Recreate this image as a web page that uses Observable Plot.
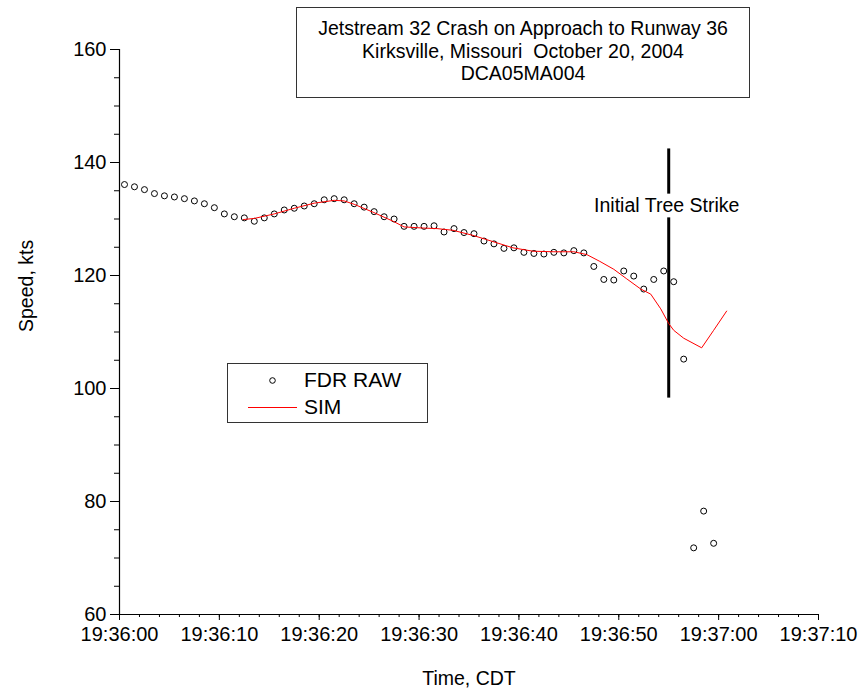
<!DOCTYPE html>
<html>
<head>
<meta charset="utf-8">
<script src="https://cdn.jsdelivr.net/npm/d3@7"></script>
<script src="https://cdn.jsdelivr.net/npm/@observablehq/plot@0.6"></script>
<style>
  html, body { margin: 0; padding: 0; background: #fff; }
  #wrap { position: relative; width: 863px; height: 700px; font-family: "Liberation Sans", Arial, sans-serif; color: #000; }
  #titlebox { position: absolute; left: 296px; top: 7px; width: 452px; height: 80px; border: 1px solid #333; background: #fff;
    text-align: center; font-size: 19.5px; line-height: 22.5px; padding-top: 9px; box-sizing: content-box; }
  #titlebox div { white-space: pre; }
  #legend { position: absolute; left: 227px; top: 363px; width: 199px; height: 58px; border: 1px solid #333; background: #fff; }
  #legend .row { position: absolute; left: 76px; font-size: 21px; line-height: 24px; }
</style>
</head>
<body>
<div id="wrap"></div>
<script>
// ---- data ----
// FDR RAW samples: seconds after 19:36:00 and speed (kts)
const fdrTime = [0.5,1.5,2.5,3.5,4.5,5.5,6.5,7.5,8.5,9.5,10.5,11.5,12.5,13.5,14.5,15.5,16.5,17.5,18.5,19.5,
  20.5,21.5,22.5,23.5,24.5,25.5,26.5,27.5,28.5,29.5,30.5,31.5,32.5,33.5,34.5,35.5,36.5,37.5,38.5,39.5,
  40.5,41.5,42.5,43.5,44.5,45.5,46.5,47.5,48.5,49.5,50.5,51.5,52.5,53.5,54.5,55.5,56.5,57.5,58.5,59.5];
const fdrSpeed = [136.1,135.7,135.2,134.5,134.1,133.9,133.6,133.2,132.7,132.0,130.9,130.4,130.2,129.6,130.2,130.9,131.6,131.9,132.3,132.7,
  133.4,133.6,133.4,132.7,132.1,131.3,130.4,130.0,128.7,128.7,128.7,128.8,127.7,128.3,127.6,127.4,126.1,125.6,124.8,124.9,
  124.1,123.9,123.8,124.1,124.0,124.4,124.0,121.6,119.3,119.2,120.8,119.9,117.6,119.3,120.8,118.9,105.2,71.8,78.3,72.6];
// SIM trace
const simTime = [12.4,13.5,15.5,17.5,19.5,21.5,22.5,23.5,25.4,27.4,28.5,30.4,31.8,33.4,35.4,37.4,39.4,41.4,43.5,45.5,
  46.8,48.1,49.5,50.8,52.2,53.2,54.2,55.0,55.5,56.5,58.3,59.5,60.8];
const simSpeed = [129.9,130.1,130.9,131.9,132.8,133.3,133.2,132.6,131.2,129.6,128.6,128.4,128.3,128.0,127.1,126.0,124.9,124.3,124.2,124.2,
  123.7,122.5,121.1,119.4,117.6,116.7,114.1,111.5,110.3,108.9,107.2,110.3,113.7];
// annotation: initial tree strike
const strikeTime = [55.0, 55.0];
const strikeFrom = [142.4, 130.2];
const strikeTo = [134.4, 98.3];
const strikeLabel = "Initial Tree Strike";
const strikeLabelTime = 54.8;
const strikeLabelSpeed = 132.3;
// axes
const xTicks = [0,10,20,30,40,50,60,70];
const xTickLabels = ["19:36:00","19:36:10","19:36:20","19:36:30","19:36:40","19:36:50","19:37:00","19:37:10"];
const yTicks = [60,80,100,120,140,160];
const titleLines = ["Jetstream 32 Crash on Approach to Runway 36", "Kirksville, Missouri  October 20, 2004", "DCA05MA004"];
const seriesNames = ["FDR RAW", "SIM"];

const fdr = fdrTime.map((t, i) => ({t, v: fdrSpeed[i]}));
const sim = simTime.map((t, i) => ({t, v: simSpeed[i]}));
const strike = strikeTime.map((t, i) => ({t, y1: strikeFrom[i], y2: strikeTo[i]}));

const font = '"Liberation Sans", Arial, sans-serif';
const chart = Plot.plot({
  width: 863, height: 700,
  marginLeft: 119, marginRight: 45, marginTop: 49, marginBottom: 86,
  style: {fontFamily: font, fontSize: "20px", color: "#000", background: "#fff", overflow: "visible"},
  x: {domain: [0, 70]},
  y: {domain: [60, 160]},
  marks: [
    Plot.axisY({ticks: d3.range(60, 161, 5), tickSize: 5, tickFormat: () => "", label: null}),
    Plot.axisY({ticks: yTicks, tickSize: 9, tickPadding: 4, label: null, fontSize: 20, tickFormat: d => String(d)}),
    Plot.axisX({ticks: d3.range(0, 71, 2), tickSize: 3, tickFormat: () => "", label: null}),
    Plot.axisX({ticks: xTicks, tickSize: 6, tickPadding: 6, label: null, fontSize: 20,
      tickFormat: d => xTickLabels[xTicks.indexOf(d)]}),
    Plot.ruleX([0], {stroke: "#000", strokeWidth: 1.2}),
    Plot.ruleY([60], {stroke: "#000", strokeWidth: 1.2}),
    Plot.text(["Speed, kts"], {frameAnchor: "left", rotate: -90, dx: -93, fontSize: 19.5, text: d => d}),
    Plot.text(["Time, CDT"], {frameAnchor: "bottom", dy: 70, fontSize: 19.5, text: d => d}),
    Plot.ruleX(strike, {x: "t", y1: "y1", y2: "y2", stroke: "#000", strokeWidth: 3}),
    Plot.text([strikeLabel], {x: () => strikeLabelTime, y: () => strikeLabelSpeed, text: d => d, fontSize: 19.5}),
    Plot.dot(fdr, {x: "t", y: "v", r: 3, stroke: "#000", fill: "#fff", strokeWidth: 1}),
    Plot.line(sim, {x: "t", y: "v", stroke: "#ff0000", strokeWidth: 1})
  ]
});
const wrap = document.getElementById("wrap");
wrap.appendChild(chart);

const tb = document.createElement("div");
tb.id = "titlebox";
titleLines.forEach(s => { const d = document.createElement("div"); d.textContent = s; tb.appendChild(d); });
wrap.appendChild(tb);

const lg = document.createElement("div");
lg.id = "legend";
lg.innerHTML = `<svg width="199" height="58" style="position:absolute;left:0;top:0">
  <circle cx="44.5" cy="16.5" r="2.8" fill="#fff" stroke="#000" stroke-width="1"></circle>
  <line x1="20" x2="69" y1="43.5" y2="43.5" stroke="#ff0000" stroke-width="1"></line></svg>`;
const r1 = document.createElement("div"); r1.className = "row"; r1.style.top = "4px"; r1.textContent = seriesNames[0];
const r2 = document.createElement("div"); r2.className = "row"; r2.style.top = "31px"; r2.textContent = seriesNames[1];
lg.appendChild(r1); lg.appendChild(r2);
wrap.appendChild(lg);
</script>
</body>
</html>
